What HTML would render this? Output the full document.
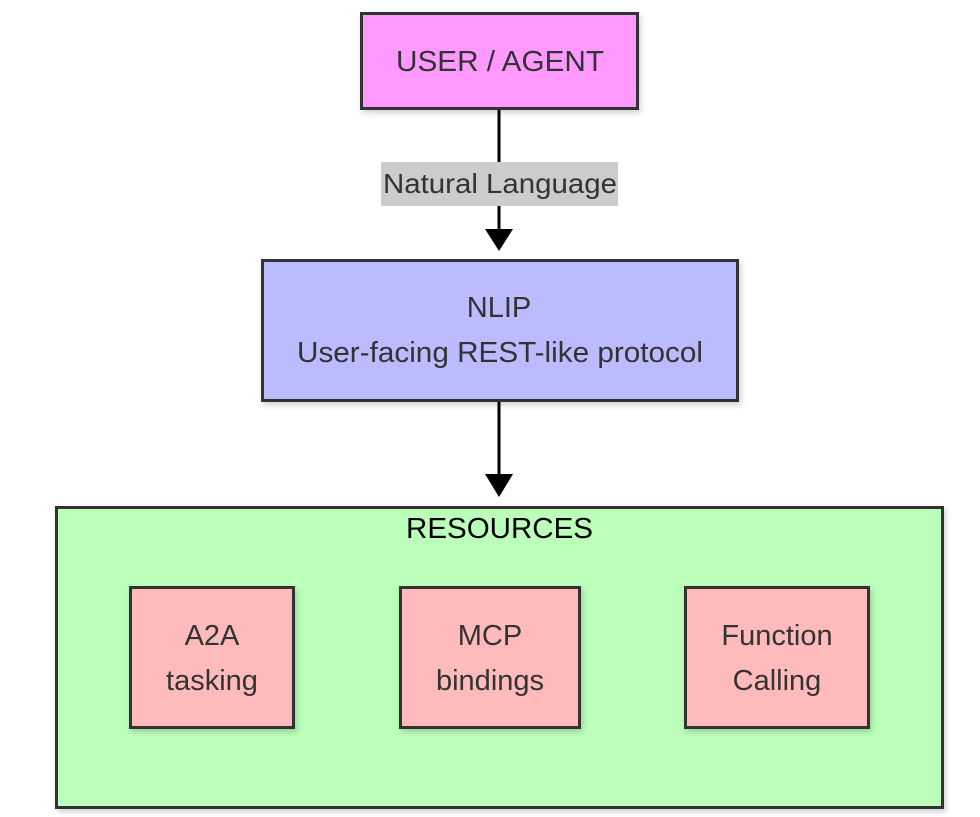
<!DOCTYPE html>
<html><head><meta charset="utf-8"><style>
html,body{margin:0;padding:0;background:#fff;}
svg{display:block;}
text{font-family:"Liberation Sans",Arial,sans-serif;fill:#333;}
</style></head><body>
<svg width="980" height="817" viewBox="0 0 980 817" xmlns="http://www.w3.org/2000/svg">
<defs>
<filter id="sh" x="-10%" y="-10%" width="120%" height="130%"><feDropShadow dx="2" dy="3" stdDeviation="3" flood-color="#000" flood-opacity="0.18"/></filter>
</defs>
<line x1="499" y1="109" x2="499" y2="232" stroke="#000" stroke-width="3"/>
<polygon points="485,229 513,229 499,251" fill="#000"/>
<line x1="499" y1="401" x2="499" y2="478" stroke="#000" stroke-width="3"/>
<polygon points="485,474 513,474 499,497" fill="#000"/>
<rect x="361.5" y="13.5" width="276" height="95" fill="#ff99ff" stroke="#333" stroke-width="3" filter="url(#sh)"/>
<text x="396" y="71" font-size="29" textLength="208" lengthAdjust="spacingAndGlyphs">USER / AGENT</text>
<rect x="381" y="162" width="237" height="44" fill="#cccccc"/>
<text x="383" y="193" font-size="28" textLength="234" lengthAdjust="spacingAndGlyphs">Natural Language</text>
<rect x="262.5" y="260.5" width="475" height="140" fill="#bbbbff" stroke="#333" stroke-width="3" filter="url(#sh)"/>
<text x="499" y="317" font-size="29" text-anchor="middle">NLIP</text>
<text x="297" y="362" font-size="29" textLength="406" lengthAdjust="spacingAndGlyphs">User-facing REST-like protocol</text>
<rect x="56.5" y="507.5" width="886" height="300" fill="#bbffbb" stroke="#333" stroke-width="3" filter="url(#sh)"/>
<text x="406" y="538" font-size="29" textLength="187" lengthAdjust="spacingAndGlyphs" style="fill:#000">RESOURCES</text>
<rect x="130.5" y="587.5" width="163" height="140" fill="#ffbbbb" stroke="#333" stroke-width="3" filter="url(#sh)"/>
<text x="212" y="645" font-size="29" text-anchor="middle">A2A</text>
<text x="212" y="690" font-size="29" text-anchor="middle">tasking</text>
<rect x="400.5" y="587.5" width="179" height="140" fill="#ffbbbb" stroke="#333" stroke-width="3" filter="url(#sh)"/>
<text x="490" y="645" font-size="29" text-anchor="middle">MCP</text>
<text x="490" y="690" font-size="29" text-anchor="middle">bindings</text>
<rect x="685.5" y="587.5" width="183" height="140" fill="#ffbbbb" stroke="#333" stroke-width="3" filter="url(#sh)"/>
<text x="777" y="645" font-size="29" text-anchor="middle">Function</text>
<text x="777" y="690" font-size="29" text-anchor="middle">Calling</text>
</svg>
</body></html>
